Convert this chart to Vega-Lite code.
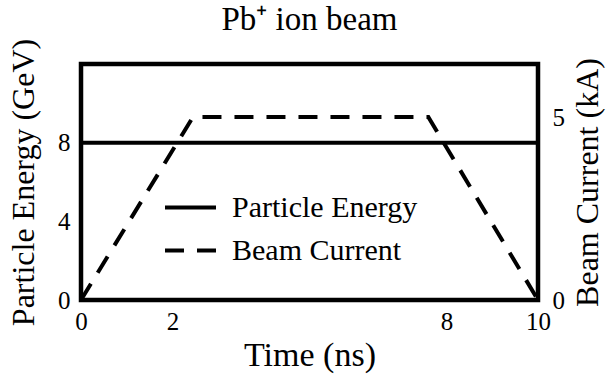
{
  "$schema": "https://vega.github.io/schema/vega-lite/v6.json",
  "autosize": {"type": "none"},
  "padding": {"left": 81, "top": 64, "right": 78, "bottom": 74},
  "width": 457,
  "height": 236,
  "background": "white",
  "title": {
    "text": "Pb⁺ ion beam",
    "font": "Liberation Serif",
    "fontSize": 33,
    "fontWeight": "normal",
    "color": "black",
    "anchor": "middle",
    "offset": 1
  },
  "datasets": {
    "energy": [
      {"t": 0, "energy": 8, "series": "Particle Energy"},
      {"t": 10, "energy": 8, "series": "Particle Energy"}
    ],
    "current": [
      {"t": 0, "current": 0, "series": "Beam Current"},
      {"t": 2.45, "current": 5, "series": "Beam Current"},
      {"t": 7.6, "current": 5, "series": "Beam Current"},
      {"t": 10, "current": 0, "series": "Beam Current"}
    ]
  },
  "config": {
    "font": "Liberation Serif",
    "view": {"stroke": "black", "strokeWidth": 4.5},
    "axis": {
      "grid": false,
      "domain": false,
      "ticks": false,
      "tickSize": 0,
      "labelFont": "Liberation Serif",
      "labelFontSize": 25,
      "labelColor": "black",
      "titleFont": "Liberation Serif",
      "titleFontSize": 32,
      "titleFontWeight": "normal",
      "titleColor": "black"
    },
    "legend": {
      "labelFont": "Liberation Serif",
      "labelFontSize": 30,
      "labelColor": "black",
      "labelLimit": 400
    }
  },
  "encoding": {
    "x": {
      "field": "t",
      "type": "quantitative",
      "title": "Time (ns)",
      "scale": {"domain": [0, 10], "nice": false, "zero": false},
      "axis": {"values": [0, 2, 8, 10], "labelPadding": 9, "titlePadding": 4, "titleFontSize": 34, "labelFlush": false}
    }
  },
  "layer": [
    {
      "data": {"name": "energy"},
      "mark": {"type": "line", "color": "black", "strokeWidth": 4, "clip": false},
      "encoding": {
        "y": {
          "field": "energy",
          "type": "quantitative",
          "title": "Particle Energy (GeV)",
          "scale": {"domain": [0, 12], "nice": false},
          "axis": {"orient": "left", "values": [0, 4, 8], "labelPadding": 11, "titlePadding": 17}
        },
        "strokeDash": {
          "field": "series",
          "type": "nominal",
          "scale": {
            "domain": ["Particle Energy", "Beam Current"],
            "range": [[1, 0], [19, 13]]
          },
          "legend": {
            "title": null,
            "orient": "none",
            "legendX": 82,
            "legendY": 116,
            "padding": 0,
            "symbolType": "stroke",
            "symbolSize": 2601,
            "symbolStrokeWidth": 4,
            "symbolStrokeColor": "black",
            "labelOffset": 14,
            "rowPadding": -12
          }
        }
      }
    },
    {
      "data": {"name": "current"},
      "mark": {"type": "line", "color": "black", "strokeWidth": 4, "clip": false},
      "encoding": {
        "y": {
          "field": "current",
          "type": "quantitative",
          "title": "Beam Current (kA)",
          "scale": {"domain": [0, 6.45], "nice": false},
          "axis": {"orient": "right", "values": [0, 5], "labelPadding": 14, "titlePadding": 40, "titleAngle": -90}
        },
        "strokeDash": {"field": "series", "type": "nominal"}
      }
    }
  ],
  "resolve": {"scale": {"y": "independent"}}
}
